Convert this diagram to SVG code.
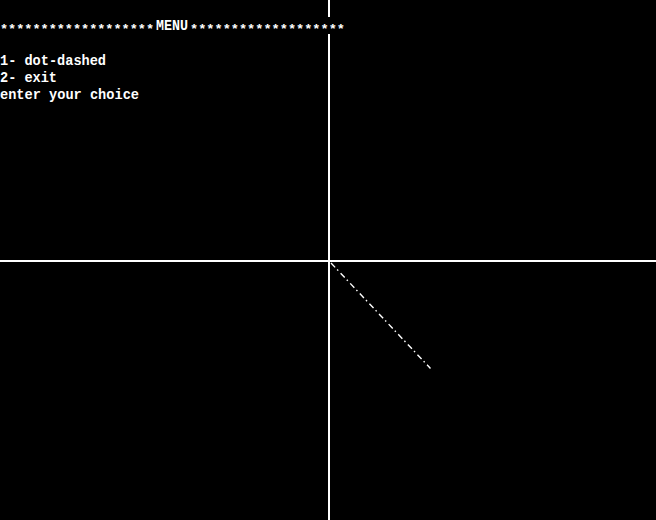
<svg xmlns="http://www.w3.org/2000/svg" width="656" height="520" viewBox="0 0 656 520">
<style>
.t{font-family:"Liberation Mono","DejaVu Sans Mono",monospace;font-size:14.5px;font-weight:bold;fill:#fff;}
.s{font-family:"Liberation Mono","DejaVu Sans Mono",monospace;font-size:13.5px;font-weight:bold;fill:#fff;}
.ax{stroke:#fff;stroke-width:2;fill:none;}
</style>
<rect x="0" y="0" width="656" height="520" fill="#000"/>
<g id="axes">
<line class="ax" x1="329" y1="0" x2="329" y2="520"/>
<line class="ax" x1="0" y1="261" x2="656" y2="261"/>
</g>
<g id="menu">
<rect x="0" y="17" width="345" height="17" fill="#000"/>
<text class="s" x="0" y="33" textLength="154" lengthAdjust="spacingAndGlyphs">*******************</text>
<text class="t" x="156" y="30" textLength="32" lengthAdjust="spacingAndGlyphs">MENU</text>
<text class="s" x="190" y="33" textLength="155" lengthAdjust="spacingAndGlyphs">*******************</text>
<text class="t" x="0" y="65" textLength="106" lengthAdjust="spacingAndGlyphs">1- dot-dashed</text>
<text class="t" x="0" y="82" textLength="57" lengthAdjust="spacingAndGlyphs">2- exit</text>
<text class="t" x="0" y="99" textLength="139" lengthAdjust="spacingAndGlyphs">enter your choice</text>
</g>
<g id="connectors">
<line x1="331" y1="263" x2="430.5" y2="368.5" stroke="#fff" stroke-width="1.4" stroke-dasharray="6 3 1.5 3.5"/>
</g>
</svg>
